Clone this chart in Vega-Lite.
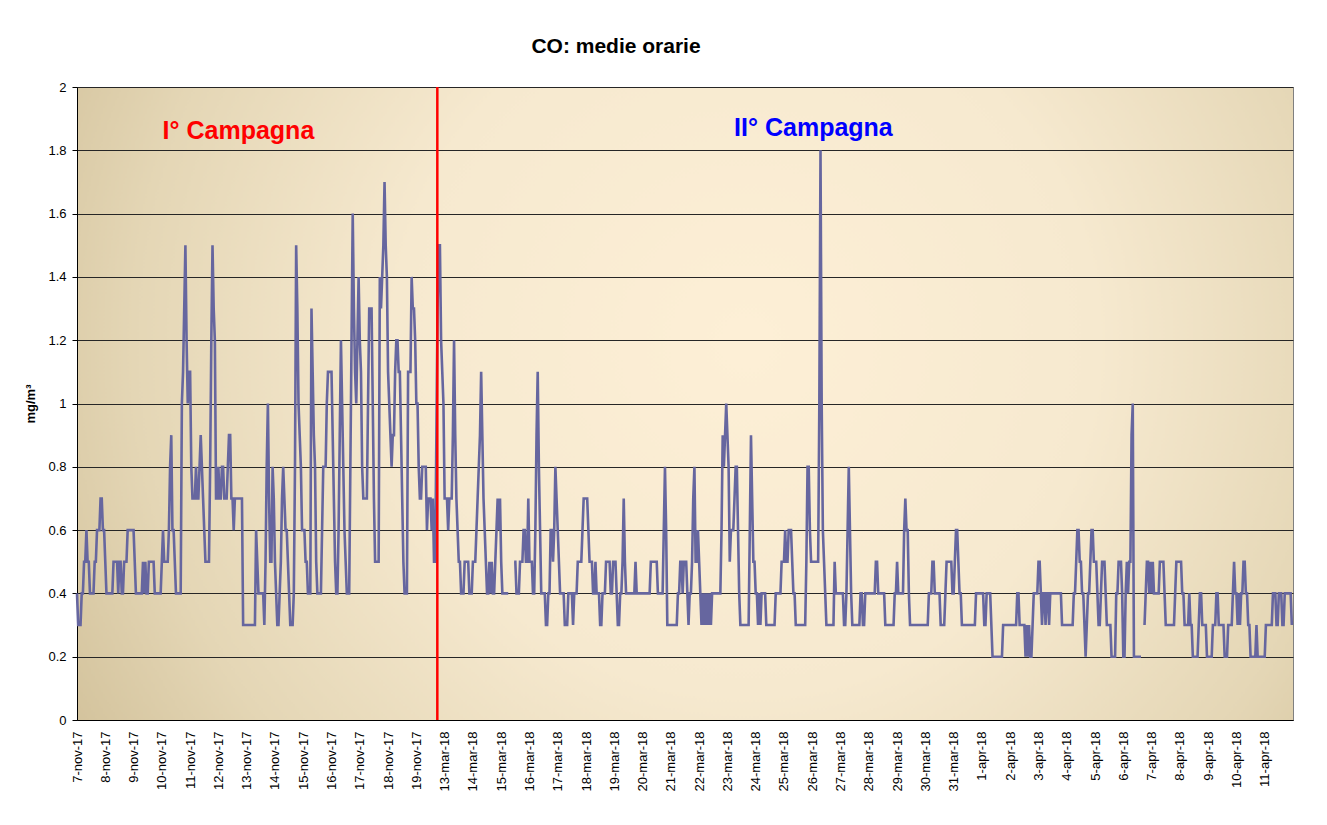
{
"$schema": "https://vega.github.io/schema/vega-lite/v6.json",
"width": 1216, "height": 633,
"autosize": {"type": "none"},
"padding": {"left": 77, "top": 87, "right": 34, "bottom": 105},
"background": "white",
"config": {
  "font": "Liberation Sans",
  "view": {"stroke": "#808080", "strokeWidth": 1,
    "fill": {"gradient": "radial", "x1": 0.55, "y1": 0.45, "r1": 0, "x2": 0.55, "y2": 0.45, "r2": 0.72,
      "stops": [{"offset": 0, "color": "#fdefd6"}, {"offset": 0.4, "color": "#f6e9cf"}, {"offset": 0.7, "color": "#e4d6b5"}, {"offset": 1, "color": "#c8b68c"}]}}
},
"title": {"text": "CO: medie orarie", "fontSize": 21, "fontWeight": "bold", "font": "Liberation Sans", "color": "black", "anchor": "middle", "dx": -69, "offset": 24},
"datasets": {
  "divider": [{"h": 305.8}],
  "labels": [{"label": "I° Campagna", "h": 137, "v": 1.86}, {"label": "II° Campagna", "h": 625, "v": 1.87}],
  "co": [
{"h":0,"v":0.4},{"h":1,"v":0.3},{"h":2,"v":0.3},{"h":3,"v":0.3},{"h":4,"v":0.4},{"h":5,"v":0.4},{"h":6,"v":0.5},{"h":7,"v":0.5},{"h":8,"v":0.6},{"h":9,"v":0.5},{"h":10,"v":0.5},{"h":11,"v":0.4},{"h":12,"v":0.4},{"h":13,"v":0.4},{"h":14,"v":0.4},{"h":15,"v":0.5},{"h":16,"v":0.5},{"h":17,"v":0.6},{"h":18,"v":0.6},{"h":19,"v":0.6},{"h":20,"v":0.7},{"h":21,"v":0.7},{"h":22,"v":0.6},{"h":23,"v":0.6},
{"h":24,"v":0.5},{"h":25,"v":0.4},{"h":26,"v":0.4},{"h":27,"v":0.4},{"h":28,"v":0.4},{"h":29,"v":0.4},{"h":30,"v":0.4},{"h":31,"v":0.5},{"h":32,"v":0.5},{"h":33,"v":0.5},{"h":34,"v":0.5},{"h":35,"v":0.4},{"h":36,"v":0.5},{"h":37,"v":0.5},{"h":38,"v":0.4},{"h":39,"v":0.4},{"h":40,"v":0.5},{"h":41,"v":0.5},{"h":42,"v":0.5},{"h":43,"v":0.6},{"h":44,"v":0.6},{"h":45,"v":0.6},{"h":46,"v":0.6},{"h":47,"v":0.6},
{"h":48,"v":0.6},{"h":49,"v":0.5},{"h":50,"v":0.4},{"h":51,"v":0.4},{"h":52,"v":0.4},{"h":53,"v":0.4},{"h":54,"v":0.4},{"h":55,"v":0.4},{"h":56,"v":0.5},{"h":57,"v":0.4},{"h":58,"v":0.5},{"h":59,"v":0.4},{"h":60,"v":0.4},{"h":61,"v":0.5},{"h":62,"v":0.5},{"h":63,"v":0.5},{"h":64,"v":0.5},{"h":65,"v":0.5},{"h":66,"v":0.4},{"h":67,"v":0.4},{"h":68,"v":0.4},{"h":69,"v":0.4},{"h":70,"v":0.4},{"h":71,"v":0.4},
{"h":72,"v":0.5},{"h":73,"v":0.6},{"h":74,"v":0.5},{"h":75,"v":0.5},{"h":76,"v":0.5},{"h":77,"v":0.5},{"h":78,"v":0.6},{"h":79,"v":0.8},{"h":80,"v":0.9},{"h":81,"v":0.6},{"h":82,"v":0.6},{"h":83,"v":0.5},{"h":84,"v":0.4},{"h":85,"v":0.4},{"h":86,"v":0.4},{"h":87,"v":0.4},{"h":88,"v":0.4},{"h":89,"v":1},{"h":90,"v":1.1},{"h":91,"v":1.3},{"h":92,"v":1.5},{"h":93,"v":1.2},{"h":94,"v":1},{"h":95,"v":1.1},
{"h":96,"v":1.1},{"h":97,"v":0.8},{"h":98,"v":0.7},{"h":99,"v":0.7},{"h":100,"v":0.7},{"h":101,"v":0.8},{"h":102,"v":0.7},{"h":103,"v":0.7},{"h":104,"v":0.8},{"h":105,"v":0.9},{"h":106,"v":0.8},{"h":107,"v":0.7},{"h":108,"v":0.6},{"h":109,"v":0.5},{"h":110,"v":0.5},{"h":111,"v":0.5},{"h":112,"v":0.5},{"h":113,"v":0.8},{"h":114,"v":1.2},{"h":115,"v":1.5},{"h":116,"v":1.3},{"h":117,"v":1.2},{"h":118,"v":0.7},{"h":119,"v":0.7},
{"h":120,"v":0.8},{"h":121,"v":0.7},{"h":122,"v":0.7},{"h":123,"v":0.8},{"h":124,"v":0.8},{"h":125,"v":0.7},{"h":126,"v":0.7},{"h":127,"v":0.7},{"h":128,"v":0.8},{"h":129,"v":0.9},{"h":130,"v":0.9},{"h":131,"v":0.7},{"h":132,"v":0.7},{"h":133,"v":0.6},{"h":134,"v":0.7},{"h":135,"v":0.7},{"h":136,"v":0.7},{"h":137,"v":0.7},{"h":138,"v":0.7},{"h":139,"v":0.7},{"h":140,"v":0.7},{"h":141,"v":0.3},{"h":142,"v":0.3},{"h":143,"v":0.3},
{"h":144,"v":0.3},{"h":145,"v":0.3},{"h":146,"v":0.3},{"h":147,"v":0.3},{"h":148,"v":0.3},{"h":149,"v":0.3},{"h":150,"v":0.3},{"h":151,"v":0.3},{"h":152,"v":0.6},{"h":153,"v":0.5},{"h":154,"v":0.4},{"h":155,"v":0.4},{"h":156,"v":0.4},{"h":157,"v":0.4},{"h":158,"v":0.4},{"h":159,"v":0.3},{"h":160,"v":0.5},{"h":161,"v":0.8},{"h":162,"v":1},{"h":163,"v":0.7},{"h":164,"v":0.5},{"h":165,"v":0.5},{"h":166,"v":0.8},{"h":167,"v":0.7},
{"h":168,"v":0.5},{"h":169,"v":0.4},{"h":170,"v":0.3},{"h":171,"v":0.3},{"h":172,"v":0.4},{"h":173,"v":0.5},{"h":174,"v":0.7},{"h":175,"v":0.8},{"h":176,"v":0.7},{"h":177,"v":0.6},{"h":178,"v":0.6},{"h":179,"v":0.5},{"h":180,"v":0.4},{"h":181,"v":0.3},{"h":182,"v":0.3},{"h":183,"v":0.3},{"h":184,"v":0.4},{"h":185,"v":0.8},{"h":186,"v":1.5},{"h":187,"v":1.3},{"h":188,"v":1},{"h":189,"v":0.9},{"h":190,"v":0.8},{"h":191,"v":0.6},
{"h":192,"v":0.6},{"h":193,"v":0.6},{"h":194,"v":0.5},{"h":195,"v":0.5},{"h":196,"v":0.4},{"h":197,"v":0.4},{"h":198,"v":0.4},{"h":199,"v":1.3},{"h":200,"v":1.1},{"h":201,"v":0.9},{"h":202,"v":0.8},{"h":203,"v":0.5},{"h":204,"v":0.4},{"h":205,"v":0.4},{"h":206,"v":0.4},{"h":207,"v":0.4},{"h":208,"v":0.6},{"h":209,"v":0.8},{"h":210,"v":0.8},{"h":211,"v":0.8},{"h":212,"v":1},{"h":213,"v":1.1},{"h":214,"v":1.1},{"h":215,"v":1.1},
{"h":216,"v":1.1},{"h":217,"v":0.9},{"h":218,"v":0.7},{"h":219,"v":0.5},{"h":220,"v":0.4},{"h":221,"v":0.4},{"h":222,"v":0.6},{"h":223,"v":0.9},{"h":224,"v":1.2},{"h":225,"v":1},{"h":226,"v":0.8},{"h":227,"v":0.6},{"h":228,"v":0.5},{"h":229,"v":0.4},{"h":230,"v":0.4},{"h":231,"v":0.4},{"h":232,"v":0.8},{"h":233,"v":1.2},{"h":234,"v":1.6},{"h":235,"v":1.3},{"h":236,"v":1.1},{"h":237,"v":1},{"h":238,"v":1.2},{"h":239,"v":1.4},
{"h":240,"v":1.2},{"h":241,"v":1.1},{"h":242,"v":0.8},{"h":243,"v":0.7},{"h":244,"v":0.7},{"h":245,"v":0.7},{"h":246,"v":0.7},{"h":247,"v":1},{"h":248,"v":1.3},{"h":249,"v":1.3},{"h":250,"v":1.3},{"h":251,"v":1},{"h":252,"v":0.7},{"h":253,"v":0.5},{"h":254,"v":0.5},{"h":255,"v":0.5},{"h":256,"v":0.5},{"h":257,"v":1.4},{"h":258,"v":1.3},{"h":259,"v":1.4},{"h":260,"v":1.5},{"h":261,"v":1.7},{"h":262,"v":1.5},{"h":263,"v":1.4},
{"h":264,"v":1.1},{"h":265,"v":1},{"h":266,"v":0.9},{"h":267,"v":0.8},{"h":268,"v":0.9},{"h":269,"v":0.9},{"h":270,"v":1.1},{"h":271,"v":1.2},{"h":272,"v":1.2},{"h":273,"v":1.1},{"h":274,"v":1.1},{"h":275,"v":0.9},{"h":276,"v":0.7},{"h":277,"v":0.5},{"h":278,"v":0.4},{"h":279,"v":0.4},{"h":280,"v":0.4},{"h":281,"v":1.1},{"h":282,"v":1.1},{"h":283,"v":1.1},{"h":284,"v":1.4},{"h":285,"v":1.3},{"h":286,"v":1.3},{"h":287,"v":1.2},
{"h":288,"v":1},{"h":289,"v":1},{"h":290,"v":0.8},{"h":291,"v":0.7},{"h":292,"v":0.7},{"h":293,"v":0.8},{"h":294,"v":0.8},{"h":295,"v":0.8},{"h":296,"v":0.8},{"h":297,"v":0.6},{"h":298,"v":0.7},{"h":299,"v":0.7},{"h":300,"v":0.7},{"h":301,"v":0.6},{"h":302,"v":0.7},{"h":303,"v":0.5},{"h":304,"v":0.5},{"h":305,"v":0.9},{"h":306,"v":1.3},{"h":307,"v":1.5},{"h":308,"v":1.5},{"h":309,"v":1.2},{"h":310,"v":1.1},{"h":311,"v":1},
{"h":312,"v":0.7},{"h":313,"v":0.7},{"h":314,"v":0.7},{"h":315,"v":0.6},{"h":316,"v":0.7},{"h":317,"v":0.7},{"h":318,"v":0.7},{"h":319,"v":0.9},{"h":320,"v":1.2},{"h":321,"v":0.9},{"h":322,"v":0.7},{"h":323,"v":0.6},{"h":324,"v":0.5},{"h":325,"v":0.5},{"h":326,"v":0.4},{"h":327,"v":0.4},{"h":328,"v":0.4},{"h":329,"v":0.5},{"h":330,"v":0.5},{"h":331,"v":0.5},{"h":332,"v":0.5},{"h":333,"v":0.4},{"h":334,"v":0.4},{"h":335,"v":0.4},
{"h":336,"v":0.5},{"h":337,"v":0.5},{"h":338,"v":0.5},{"h":339,"v":0.6},{"h":340,"v":0.7},{"h":341,"v":0.8},{"h":342,"v":0.9},{"h":343,"v":1.1},{"h":344,"v":0.9},{"h":345,"v":0.7},{"h":346,"v":0.6},{"h":347,"v":0.5},{"h":348,"v":0.4},{"h":349,"v":0.4},{"h":350,"v":0.5},{"h":351,"v":0.4},{"h":352,"v":0.5},{"h":353,"v":0.4},{"h":354,"v":0.4},{"h":355,"v":0.5},{"h":356,"v":0.6},{"h":357,"v":0.7},{"h":358,"v":0.6},{"h":359,"v":0.7},
{"h":360,"v":0.5},{"h":361,"v":0.4},{"h":362,"v":0.4},{"h":363,"v":0.4},{"h":364,"v":0.4},{"h":365,"v":0.4},{"h":366,"v":0.4},{"h":367,"v":null},{"h":368,"v":null},{"h":369,"v":null},{"h":370,"v":null},{"h":371,"v":0.5},{"h":372,"v":0.5},{"h":373,"v":0.4},{"h":374,"v":0.4},{"h":375,"v":0.4},{"h":376,"v":0.5},{"h":377,"v":0.5},{"h":378,"v":0.5},{"h":379,"v":0.6},{"h":380,"v":0.6},{"h":381,"v":0.5},{"h":382,"v":0.5},{"h":383,"v":0.7},
{"h":384,"v":0.5},{"h":385,"v":0.5},{"h":386,"v":0.5},{"h":387,"v":0.4},{"h":388,"v":0.4},{"h":389,"v":0.6},{"h":390,"v":0.9},{"h":391,"v":1.1},{"h":392,"v":0.8},{"h":393,"v":0.6},{"h":394,"v":0.4},{"h":395,"v":0.4},{"h":396,"v":0.4},{"h":397,"v":0.4},{"h":398,"v":0.3},{"h":399,"v":0.3},{"h":400,"v":0.4},{"h":401,"v":0.4},{"h":402,"v":0.6},{"h":403,"v":0.6},{"h":404,"v":0.5},{"h":405,"v":0.6},{"h":406,"v":0.8},{"h":407,"v":0.7},
{"h":408,"v":0.6},{"h":409,"v":0.5},{"h":410,"v":0.4},{"h":411,"v":0.4},{"h":412,"v":0.4},{"h":413,"v":0.4},{"h":414,"v":0.3},{"h":415,"v":0.3},{"h":416,"v":0.3},{"h":417,"v":0.4},{"h":418,"v":0.4},{"h":419,"v":0.4},{"h":420,"v":0.4},{"h":421,"v":0.3},{"h":422,"v":0.4},{"h":423,"v":0.4},{"h":424,"v":0.4},{"h":425,"v":0.5},{"h":426,"v":0.5},{"h":427,"v":0.5},{"h":428,"v":0.5},{"h":429,"v":0.6},{"h":430,"v":0.7},{"h":431,"v":0.7},
{"h":432,"v":0.7},{"h":433,"v":0.7},{"h":434,"v":0.6},{"h":435,"v":0.5},{"h":436,"v":0.5},{"h":437,"v":0.5},{"h":438,"v":0.4},{"h":439,"v":0.4},{"h":440,"v":0.5},{"h":441,"v":0.4},{"h":442,"v":0.4},{"h":443,"v":0.4},{"h":444,"v":0.3},{"h":445,"v":0.3},{"h":446,"v":0.4},{"h":447,"v":0.4},{"h":448,"v":0.4},{"h":449,"v":0.5},{"h":450,"v":0.5},{"h":451,"v":0.5},{"h":452,"v":0.5},{"h":453,"v":0.4},{"h":454,"v":0.4},{"h":455,"v":0.5},
{"h":456,"v":0.5},{"h":457,"v":0.5},{"h":458,"v":0.4},{"h":459,"v":0.3},{"h":460,"v":0.3},{"h":461,"v":0.4},{"h":462,"v":0.4},{"h":463,"v":0.5},{"h":464,"v":0.7},{"h":465,"v":0.5},{"h":466,"v":0.4},{"h":467,"v":0.4},{"h":468,"v":0.4},{"h":469,"v":0.4},{"h":470,"v":0.4},{"h":471,"v":0.4},{"h":472,"v":0.4},{"h":473,"v":0.4},{"h":474,"v":0.5},{"h":475,"v":0.4},{"h":476,"v":0.4},{"h":477,"v":0.4},{"h":478,"v":0.4},{"h":479,"v":0.4},
{"h":480,"v":0.4},{"h":481,"v":0.4},{"h":482,"v":0.4},{"h":483,"v":0.4},{"h":484,"v":0.4},{"h":485,"v":0.4},{"h":486,"v":0.4},{"h":487,"v":0.5},{"h":488,"v":0.5},{"h":489,"v":0.5},{"h":490,"v":0.5},{"h":491,"v":0.5},{"h":492,"v":0.5},{"h":493,"v":0.4},{"h":494,"v":0.4},{"h":495,"v":0.4},{"h":496,"v":0.4},{"h":497,"v":0.4},{"h":498,"v":0.6},{"h":499,"v":0.8},{"h":500,"v":0.6},{"h":501,"v":0.3},{"h":502,"v":0.3},{"h":503,"v":0.3},
{"h":504,"v":0.3},{"h":505,"v":0.3},{"h":506,"v":0.3},{"h":507,"v":0.3},{"h":508,"v":0.3},{"h":509,"v":0.3},{"h":510,"v":0.4},{"h":511,"v":0.4},{"h":512,"v":0.5},{"h":513,"v":0.5},{"h":514,"v":0.4},{"h":515,"v":0.5},{"h":516,"v":0.5},{"h":517,"v":0.5},{"h":518,"v":0.4},{"h":519,"v":0.3},{"h":520,"v":0.4},{"h":521,"v":0.4},{"h":522,"v":0.5},{"h":523,"v":0.7},{"h":524,"v":0.8},{"h":525,"v":0.5},{"h":526,"v":0.5},{"h":527,"v":0.6},
{"h":528,"v":0.5},{"h":529,"v":0.4},{"h":530,"v":0.3},{"h":531,"v":0.4},{"h":532,"v":0.3},{"h":533,"v":0.4},{"h":534,"v":0.3},{"h":535,"v":0.4},{"h":536,"v":0.3},{"h":537,"v":0.4},{"h":538,"v":0.3},{"h":539,"v":0.4},{"h":540,"v":0.4},{"h":541,"v":0.4},{"h":542,"v":0.4},{"h":543,"v":0.4},{"h":544,"v":0.4},{"h":545,"v":0.4},{"h":546,"v":0.4},{"h":547,"v":0.6},{"h":548,"v":0.9},{"h":549,"v":0.8},{"h":550,"v":0.9},{"h":551,"v":1},
{"h":552,"v":0.9},{"h":553,"v":0.8},{"h":554,"v":0.5},{"h":555,"v":0.6},{"h":556,"v":0.6},{"h":557,"v":0.6},{"h":558,"v":0.7},{"h":559,"v":0.8},{"h":560,"v":0.8},{"h":561,"v":0.6},{"h":562,"v":0.4},{"h":563,"v":0.3},{"h":564,"v":0.3},{"h":565,"v":0.3},{"h":566,"v":0.3},{"h":567,"v":0.3},{"h":568,"v":0.3},{"h":569,"v":0.3},{"h":570,"v":0.3},{"h":571,"v":0.6},{"h":572,"v":0.9},{"h":573,"v":0.7},{"h":574,"v":0.5},{"h":575,"v":0.5},
{"h":576,"v":0.4},{"h":577,"v":0.4},{"h":578,"v":0.3},{"h":579,"v":0.4},{"h":580,"v":0.3},{"h":581,"v":0.4},{"h":582,"v":0.4},{"h":583,"v":0.4},{"h":584,"v":0.4},{"h":585,"v":0.3},{"h":586,"v":0.3},{"h":587,"v":0.3},{"h":588,"v":0.3},{"h":589,"v":0.3},{"h":590,"v":0.3},{"h":591,"v":0.3},{"h":592,"v":0.3},{"h":593,"v":0.4},{"h":594,"v":0.4},{"h":595,"v":0.4},{"h":596,"v":0.4},{"h":597,"v":0.4},{"h":598,"v":0.5},{"h":599,"v":0.5},
{"h":600,"v":0.5},{"h":601,"v":0.6},{"h":602,"v":0.5},{"h":603,"v":0.5},{"h":604,"v":0.6},{"h":605,"v":0.6},{"h":606,"v":0.6},{"h":607,"v":0.5},{"h":608,"v":0.4},{"h":609,"v":0.4},{"h":610,"v":0.3},{"h":611,"v":0.3},{"h":612,"v":0.3},{"h":613,"v":0.3},{"h":614,"v":0.3},{"h":615,"v":0.3},{"h":616,"v":0.3},{"h":617,"v":0.3},{"h":618,"v":0.3},{"h":619,"v":0.5},{"h":620,"v":0.8},{"h":621,"v":0.8},{"h":622,"v":0.6},{"h":623,"v":0.5},
{"h":624,"v":0.5},{"h":625,"v":0.5},{"h":626,"v":0.5},{"h":627,"v":0.5},{"h":628,"v":0.5},{"h":629,"v":0.5},{"h":630,"v":1},{"h":631,"v":1.8},{"h":632,"v":1},{"h":633,"v":0.6},{"h":634,"v":0.5},{"h":635,"v":0.4},{"h":636,"v":0.3},{"h":637,"v":0.3},{"h":638,"v":0.3},{"h":639,"v":0.3},{"h":640,"v":0.3},{"h":641,"v":0.3},{"h":642,"v":0.3},{"h":643,"v":0.5},{"h":644,"v":0.4},{"h":645,"v":0.4},{"h":646,"v":0.4},{"h":647,"v":0.4},
{"h":648,"v":0.4},{"h":649,"v":0.4},{"h":650,"v":0.4},{"h":651,"v":0.3},{"h":652,"v":0.3},{"h":653,"v":0.4},{"h":654,"v":0.6},{"h":655,"v":0.8},{"h":656,"v":0.6},{"h":657,"v":0.4},{"h":658,"v":0.3},{"h":659,"v":0.3},{"h":660,"v":0.3},{"h":661,"v":0.3},{"h":662,"v":0.3},{"h":663,"v":0.3},{"h":664,"v":0.3},{"h":665,"v":0.4},{"h":666,"v":0.4},{"h":667,"v":0.3},{"h":668,"v":0.3},{"h":669,"v":0.4},{"h":670,"v":0.4},{"h":671,"v":0.4},
{"h":672,"v":0.4},{"h":673,"v":0.4},{"h":674,"v":0.4},{"h":675,"v":0.4},{"h":676,"v":0.4},{"h":677,"v":0.4},{"h":678,"v":0.5},{"h":679,"v":0.5},{"h":680,"v":0.4},{"h":681,"v":0.4},{"h":682,"v":0.4},{"h":683,"v":0.4},{"h":684,"v":0.4},{"h":685,"v":0.4},{"h":686,"v":0.3},{"h":687,"v":0.3},{"h":688,"v":0.3},{"h":689,"v":0.3},{"h":690,"v":0.3},{"h":691,"v":0.3},{"h":692,"v":0.3},{"h":693,"v":0.3},{"h":694,"v":0.4},{"h":695,"v":0.4},
{"h":696,"v":0.5},{"h":697,"v":0.4},{"h":698,"v":0.4},{"h":699,"v":0.4},{"h":700,"v":0.4},{"h":701,"v":0.4},{"h":702,"v":0.6},{"h":703,"v":0.7},{"h":704,"v":0.6},{"h":705,"v":0.6},{"h":706,"v":0.4},{"h":707,"v":0.3},{"h":708,"v":0.3},{"h":709,"v":0.3},{"h":710,"v":0.3},{"h":711,"v":0.3},{"h":712,"v":0.3},{"h":713,"v":0.3},{"h":714,"v":0.3},{"h":715,"v":0.3},{"h":716,"v":0.3},{"h":717,"v":0.3},{"h":718,"v":0.3},{"h":719,"v":0.3},
{"h":720,"v":0.3},{"h":721,"v":0.3},{"h":722,"v":0.3},{"h":723,"v":0.4},{"h":724,"v":0.4},{"h":725,"v":0.4},{"h":726,"v":0.5},{"h":727,"v":0.5},{"h":728,"v":0.4},{"h":729,"v":0.4},{"h":730,"v":0.4},{"h":731,"v":0.4},{"h":732,"v":0.4},{"h":733,"v":0.3},{"h":734,"v":0.3},{"h":735,"v":0.3},{"h":736,"v":0.3},{"h":737,"v":0.4},{"h":738,"v":0.5},{"h":739,"v":0.5},{"h":740,"v":0.5},{"h":741,"v":0.5},{"h":742,"v":0.5},{"h":743,"v":0.4},
{"h":744,"v":0.4},{"h":745,"v":0.5},{"h":746,"v":0.6},{"h":747,"v":0.6},{"h":748,"v":0.5},{"h":749,"v":0.4},{"h":750,"v":0.4},{"h":751,"v":0.3},{"h":752,"v":0.3},{"h":753,"v":0.3},{"h":754,"v":0.3},{"h":755,"v":0.3},{"h":756,"v":0.3},{"h":757,"v":0.3},{"h":758,"v":0.3},{"h":759,"v":0.3},{"h":760,"v":0.3},{"h":761,"v":0.3},{"h":762,"v":0.3},{"h":763,"v":0.4},{"h":764,"v":0.4},{"h":765,"v":0.4},{"h":766,"v":0.4},{"h":767,"v":0.4},
{"h":768,"v":0.4},{"h":769,"v":0.4},{"h":770,"v":0.3},{"h":771,"v":0.3},{"h":772,"v":0.4},{"h":773,"v":0.4},{"h":774,"v":0.4},{"h":775,"v":0.4},{"h":776,"v":0.3},{"h":777,"v":0.2},{"h":778,"v":0.2},{"h":779,"v":0.2},{"h":780,"v":0.2},{"h":781,"v":0.2},{"h":782,"v":0.2},{"h":783,"v":0.2},{"h":784,"v":0.2},{"h":785,"v":0.2},{"h":786,"v":0.3},{"h":787,"v":0.3},{"h":788,"v":0.3},{"h":789,"v":0.3},{"h":790,"v":0.3},{"h":791,"v":0.3},
{"h":792,"v":0.3},{"h":793,"v":0.3},{"h":794,"v":0.3},{"h":795,"v":0.3},{"h":796,"v":0.3},{"h":797,"v":0.3},{"h":798,"v":0.4},{"h":799,"v":0.4},{"h":800,"v":0.3},{"h":801,"v":0.3},{"h":802,"v":0.3},{"h":803,"v":0.3},{"h":804,"v":0.3},{"h":805,"v":0.2},{"h":806,"v":0.3},{"h":807,"v":0.2},{"h":808,"v":0.3},{"h":809,"v":0.2},{"h":810,"v":0.2},{"h":811,"v":0.3},{"h":812,"v":0.4},{"h":813,"v":0.4},{"h":814,"v":0.4},{"h":815,"v":0.4},
{"h":816,"v":0.5},{"h":817,"v":0.5},{"h":818,"v":0.4},{"h":819,"v":0.3},{"h":820,"v":0.4},{"h":821,"v":0.4},{"h":822,"v":0.3},{"h":823,"v":0.4},{"h":824,"v":0.4},{"h":825,"v":0.3},{"h":826,"v":0.4},{"h":827,"v":0.4},{"h":828,"v":0.4},{"h":829,"v":0.4},{"h":830,"v":0.4},{"h":831,"v":0.4},{"h":832,"v":0.4},{"h":833,"v":0.4},{"h":834,"v":0.4},{"h":835,"v":0.4},{"h":836,"v":0.3},{"h":837,"v":0.3},{"h":838,"v":0.3},{"h":839,"v":0.3},
{"h":840,"v":0.3},{"h":841,"v":0.3},{"h":842,"v":0.3},{"h":843,"v":0.3},{"h":844,"v":0.3},{"h":845,"v":0.3},{"h":846,"v":0.4},{"h":847,"v":0.4},{"h":848,"v":0.5},{"h":849,"v":0.6},{"h":850,"v":0.6},{"h":851,"v":0.5},{"h":852,"v":0.5},{"h":853,"v":0.4},{"h":854,"v":0.4},{"h":855,"v":0.3},{"h":856,"v":0.2},{"h":857,"v":0.3},{"h":858,"v":0.4},{"h":859,"v":0.4},{"h":860,"v":0.5},{"h":861,"v":0.6},{"h":862,"v":0.6},{"h":863,"v":0.5},
{"h":864,"v":0.5},{"h":865,"v":0.5},{"h":866,"v":0.4},{"h":867,"v":0.3},{"h":868,"v":0.3},{"h":869,"v":0.4},{"h":870,"v":0.5},{"h":871,"v":0.5},{"h":872,"v":0.5},{"h":873,"v":0.4},{"h":874,"v":0.3},{"h":875,"v":0.3},{"h":876,"v":0.3},{"h":877,"v":0.3},{"h":878,"v":0.2},{"h":879,"v":0.2},{"h":880,"v":0.2},{"h":881,"v":0.2},{"h":882,"v":0.4},{"h":883,"v":0.4},{"h":884,"v":0.5},{"h":885,"v":0.5},{"h":886,"v":0.5},{"h":887,"v":0.4},
{"h":888,"v":0.2},{"h":889,"v":0.2},{"h":890,"v":0.4},{"h":891,"v":0.5},{"h":892,"v":0.4},{"h":893,"v":0.5},{"h":894,"v":0.5},{"h":895,"v":0.9},{"h":896,"v":1},{"h":897,"v":0.2},{"h":898,"v":0.2},{"h":899,"v":0.2},{"h":900,"v":0.2},{"h":901,"v":0.2},{"h":902,"v":0.2},{"h":903,"v":0.2},{"h":904,"v":null},{"h":905,"v":null},{"h":906,"v":0.3},{"h":907,"v":0.4},{"h":908,"v":0.5},{"h":909,"v":0.5},{"h":910,"v":0.4},{"h":911,"v":0.5},
{"h":912,"v":0.4},{"h":913,"v":0.5},{"h":914,"v":0.4},{"h":915,"v":0.4},{"h":916,"v":0.4},{"h":917,"v":0.4},{"h":918,"v":0.4},{"h":919,"v":0.5},{"h":920,"v":0.5},{"h":921,"v":0.5},{"h":922,"v":0.5},{"h":923,"v":0.4},{"h":924,"v":0.3},{"h":925,"v":0.3},{"h":926,"v":0.3},{"h":927,"v":0.3},{"h":928,"v":0.3},{"h":929,"v":0.3},{"h":930,"v":0.3},{"h":931,"v":0.3},{"h":932,"v":0.4},{"h":933,"v":0.5},{"h":934,"v":0.5},{"h":935,"v":0.5},
{"h":936,"v":0.5},{"h":937,"v":0.5},{"h":938,"v":0.4},{"h":939,"v":0.4},{"h":940,"v":0.3},{"h":941,"v":0.3},{"h":942,"v":0.3},{"h":943,"v":0.3},{"h":944,"v":0.4},{"h":945,"v":0.3},{"h":946,"v":0.3},{"h":947,"v":0.2},{"h":948,"v":0.2},{"h":949,"v":0.2},{"h":950,"v":0.2},{"h":951,"v":0.2},{"h":952,"v":0.3},{"h":953,"v":0.4},{"h":954,"v":0.4},{"h":955,"v":0.3},{"h":956,"v":0.3},{"h":957,"v":0.3},{"h":958,"v":0.3},{"h":959,"v":0.2},
{"h":960,"v":0.2},{"h":961,"v":0.2},{"h":962,"v":0.2},{"h":963,"v":0.2},{"h":964,"v":0.3},{"h":965,"v":0.3},{"h":966,"v":0.3},{"h":967,"v":0.4},{"h":968,"v":0.4},{"h":969,"v":0.3},{"h":970,"v":0.3},{"h":971,"v":0.3},{"h":972,"v":0.3},{"h":973,"v":0.3},{"h":974,"v":0.2},{"h":975,"v":0.2},{"h":976,"v":0.2},{"h":977,"v":0.3},{"h":978,"v":0.3},{"h":979,"v":0.3},{"h":980,"v":0.3},{"h":981,"v":0.4},{"h":982,"v":0.5},{"h":983,"v":0.4},
{"h":984,"v":0.4},{"h":985,"v":0.3},{"h":986,"v":0.4},{"h":987,"v":0.3},{"h":988,"v":0.4},{"h":989,"v":0.4},{"h":990,"v":0.5},{"h":991,"v":0.5},{"h":992,"v":0.4},{"h":993,"v":0.4},{"h":994,"v":0.3},{"h":995,"v":0.3},{"h":996,"v":0.2},{"h":997,"v":0.2},{"h":998,"v":0.2},{"h":999,"v":0.2},{"h":1000,"v":0.2},{"h":1001,"v":0.3},{"h":1002,"v":0.2},{"h":1003,"v":0.2},{"h":1004,"v":0.2},{"h":1005,"v":0.2},{"h":1006,"v":0.2},{"h":1007,"v":0.2},
{"h":1008,"v":0.2},{"h":1009,"v":0.3},{"h":1010,"v":0.3},{"h":1011,"v":0.3},{"h":1012,"v":0.3},{"h":1013,"v":0.3},{"h":1014,"v":0.3},{"h":1015,"v":0.4},{"h":1016,"v":0.4},{"h":1017,"v":0.4},{"h":1018,"v":0.3},{"h":1019,"v":0.3},{"h":1020,"v":0.4},{"h":1021,"v":0.4},{"h":1022,"v":0.4},{"h":1023,"v":0.3},{"h":1024,"v":0.3},{"h":1025,"v":0.4},{"h":1026,"v":0.4},{"h":1027,"v":0.4},{"h":1028,"v":0.4},{"h":1029,"v":0.4},{"h":1030,"v":0.4},{"h":1031,"v":0.3}
  ]
},
"layer": [
  {
    "data": {"name": "co"},
    "mark": {"type": "line", "color": "#66669f", "strokeWidth": 2.6},
    "encoding": {
      "x": {"field": "h", "type": "quantitative",
        "scale": {"domain": [0, 1032], "nice": false, "zero": false},
        "axis": {"values": [0,24,48,72,96,120,144,168,192,216,240,264,288,312,336,360,384,408,432,456,480,504,528,552,576,600,624,648,672,696,720,744,768,792,816,840,864,888,912,936,960,984,1008],
          "tickCount": 200,
          "labelExpr": "['7-nov-17','8-nov-17','9-nov-17','10-nov-17','11-nov-17','12-nov-17','13-nov-17','14-nov-17','15-nov-17','16-nov-17','17-nov-17','18-nov-17','19-nov-17','13-mar-18','14-mar-18','15-mar-18','16-mar-18','17-mar-18','18-mar-18','19-mar-18','20-mar-18','21-mar-18','22-mar-18','23-mar-18','24-mar-18','25-mar-18','26-mar-18','27-mar-18','28-mar-18','29-mar-18','30-mar-18','31-mar-18','1-apr-18','2-apr-18','3-apr-18','4-apr-18','5-apr-18','6-apr-18','7-apr-18','8-apr-18','9-apr-18','10-apr-18','11-apr-18'][round(datum.value/24)]",
          "labelAngle": -90, "labelAlign": "right", "labelBaseline": "middle", "labelFlush": false, "labelOverlap": false,
          "labelFontSize": 13, "labelColor": "black", "labelPadding": 11, "ticks": false, "grid": false, "title": null,
          "domainColor": "black", "domainWidth": 1}},
      "y": {"field": "v", "type": "quantitative",
        "scale": {"domain": [0, 2], "nice": false},
        "axis": {"values": [0,0.2,0.4,0.6,0.8,1,1.2,1.4,1.6,1.8,2], "tickCount": 50, "format": ".1~f",
          "title": "mg/m³", "titleFontSize": 13, "titleFontWeight": "bold", "titleColor": "black", "titlePadding": 10,
          "labelFontSize": 13, "labelColor": "black", "labelPadding": 6, "tickSize": 5, "tickColor": "black",
          "domainColor": "black", "grid": true, "gridColor": "#262626", "gridOpacity": 1, "gridWidth": 1}}
    }
  },
  {
    "data": {"name": "divider"},
    "mark": {"type": "rule", "color": "#ff0000", "strokeWidth": 2.5},
    "encoding": {"x": {"field": "h", "type": "quantitative"}}
  },
  {
    "data": {"name": "labels"},
    "mark": {"type": "text", "fontSize": 25, "fontWeight": "bold", "font": "Liberation Sans", "align": "center", "baseline": "middle"},
    "encoding": {
      "x": {"field": "h", "type": "quantitative"},
      "y": {"field": "v", "type": "quantitative"},
      "text": {"field": "label"},
      "color": {"field": "label", "type": "nominal", "scale": {"domain": ["I° Campagna", "II° Campagna"], "range": ["#ff0000", "#0000ff"]}, "legend": null}
    }
  }
]
}
